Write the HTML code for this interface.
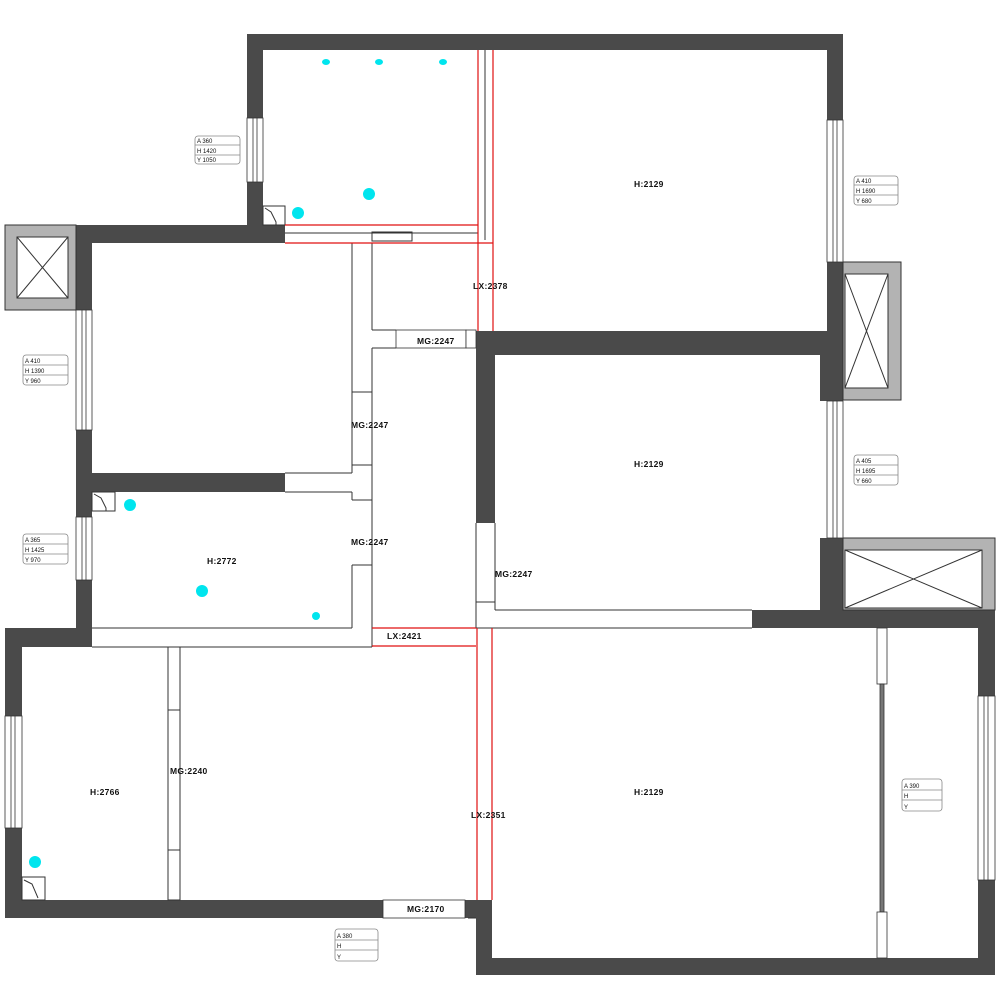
<!DOCTYPE html>
<html><head><meta charset="utf-8"><style>
html,body{margin:0;padding:0;background:#fff;}
svg{display:block;}
text{font-family:"Liberation Sans",sans-serif;font-size:8px;fill:#111;}
.lb{font-size:8.5px;letter-spacing:0.3px;font-weight:bold;}
.ib{font-size:6px;}
</style></head><body>
<svg width="1003" height="990" viewBox="0 0 1003 990" xmlns="http://www.w3.org/2000/svg">
<g fill="#4a4a4a">
<rect x="247" y="34" width="596" height="16"/>
<rect x="247" y="34" width="16" height="84"/>
<rect x="247" y="182" width="16" height="61"/>
<rect x="76" y="225" width="209" height="18"/>
<rect x="827" y="34" width="16" height="86"/>
<rect x="827" y="262" width="16" height="70"/>
<rect x="76" y="225" width="16" height="85"/>
<rect x="76" y="430" width="16" height="87"/>
<rect x="92" y="473" width="193" height="19"/>
<rect x="76" y="580" width="16" height="67"/>
<rect x="5" y="628" width="87" height="19"/>
<rect x="5" y="628" width="17" height="88"/>
<rect x="5" y="828" width="17" height="90"/>
<rect x="5" y="900" width="378" height="18"/>
<rect x="476" y="331" width="367" height="24"/>
<rect x="476" y="331" width="19" height="192"/>
<rect x="820" y="331" width="23" height="70"/>
<rect x="820" y="538" width="23" height="90"/>
<rect x="752" y="610" width="243" height="18"/>
<rect x="978" y="610" width="17" height="86"/>
<rect x="978" y="880" width="17" height="95"/>
<rect x="476" y="958" width="519" height="17"/>
<rect x="465" y="900" width="27" height="18"/>
<rect x="476" y="900" width="16" height="75"/>
</g>
<g stroke="#333" stroke-width="1">
<rect x="5" y="225" width="71" height="85" fill="#b3b3b3"/>
<rect x="17" y="237" width="51" height="61" fill="#fff"/>
<line x1="17" y1="237" x2="68" y2="298"/><line x1="68" y1="237" x2="17" y2="298"/>
<rect x="843" y="262" width="58" height="138" fill="#b3b3b3"/>
<rect x="845" y="274" width="43" height="114" fill="#fff"/>
<line x1="845" y1="274" x2="888" y2="388"/><line x1="888" y1="274" x2="845" y2="388"/>
<rect x="843" y="538" width="152" height="72" fill="#b3b3b3"/>
<rect x="845" y="550" width="137" height="58" fill="#fff"/>
<line x1="845" y1="550" x2="982" y2="608"/><line x1="982" y1="550" x2="845" y2="608"/>
</g>
<g fill="#fff" stroke="#333" stroke-width="0.8">
<rect x="247" y="118" width="16" height="64"/><line x1="253" y1="118" x2="253" y2="182"/><line x1="257" y1="118" x2="257" y2="182"/>
<rect x="827" y="120" width="16" height="142"/><line x1="833" y1="120" x2="833" y2="262"/><line x1="837" y1="120" x2="837" y2="262"/>
<rect x="76" y="310" width="16" height="120"/><line x1="82" y1="310" x2="82" y2="430"/><line x1="86" y1="310" x2="86" y2="430"/>
<rect x="76" y="517" width="16" height="63"/><line x1="82" y1="517" x2="82" y2="580"/><line x1="86" y1="517" x2="86" y2="580"/>
<rect x="827" y="401" width="16" height="137"/><line x1="833" y1="401" x2="833" y2="538"/><line x1="837" y1="401" x2="837" y2="538"/>
<rect x="5" y="716" width="17" height="112"/><line x1="11" y1="716" x2="11" y2="828"/><line x1="15" y1="716" x2="15" y2="828"/>
<rect x="978" y="696" width="17" height="184"/><line x1="984" y1="696" x2="984" y2="880"/><line x1="988" y1="696" x2="988" y2="880"/>
<rect x="877" y="628" width="10" height="56"/>
<rect x="880" y="684" width="4" height="228" fill="#777"/>
<rect x="877" y="912" width="10" height="46"/>
<rect x="383" y="900" width="82" height="18"/>
<rect x="396" y="330" width="70" height="18"/><rect x="466" y="330" width="10" height="18"/>
</g>
<g stroke="#333" stroke-width="1" fill="none">
<line x1="485" y1="50" x2="485" y2="240"/>
<line x1="285" y1="233" x2="478" y2="233"/>
<rect x="372" y="232" width="40" height="9"/>
<line x1="352" y1="243" x2="352" y2="392"/>
<line x1="372" y1="243" x2="372" y2="330"/>
<line x1="372" y1="330" x2="396" y2="330"/>
<line x1="372" y1="348" x2="396" y2="348"/>
<line x1="372" y1="348" x2="372" y2="628"/>
<line x1="352" y1="392" x2="372" y2="392"/>
<line x1="352" y1="392" x2="352" y2="465"/>
<line x1="352" y1="465" x2="372" y2="465"/>
<line x1="285" y1="473" x2="352" y2="473"/>
<line x1="285" y1="492" x2="352" y2="492"/>
<line x1="352" y1="465" x2="352" y2="473"/>
<line x1="352" y1="492" x2="352" y2="500"/>
<line x1="352" y1="500" x2="372" y2="500"/>
<line x1="352" y1="565" x2="372" y2="565"/>
<line x1="352" y1="565" x2="352" y2="628"/>
<line x1="92" y1="628" x2="352" y2="628"/>
<line x1="92" y1="647" x2="372" y2="647"/>
<line x1="372" y1="628" x2="372" y2="647"/>
<line x1="476" y1="523" x2="476" y2="628"/>
<line x1="495" y1="523" x2="495" y2="610"/>
<line x1="476" y1="602" x2="495" y2="602"/>
<line x1="495" y1="610" x2="752" y2="610"/>
<line x1="476" y1="628" x2="752" y2="628"/>
<rect x="168" y="647" width="12" height="63"/>
<line x1="168" y1="710" x2="168" y2="850"/><line x1="180" y1="710" x2="180" y2="850"/>
<rect x="168" y="850" width="12" height="50"/>
<line x1="468" y1="918" x2="476" y2="918"/>
<path d="M263 206 h22 v19 h-22 z"/><path d="M265 208 l6 4 l5 10 v3"/>
<path d="M92 492 h23 v19 h-23 z"/><path d="M94 494 l7 4 l5 10 v3"/>
<path d="M22 877 h23 v23 h-23 z"/><path d="M24 880 l8 4 l6 14"/>
</g>
<g stroke="#e01010" stroke-width="1.2">
<line x1="478" y1="50" x2="478" y2="331"/>
<line x1="493" y1="50" x2="493" y2="331"/>
<line x1="285" y1="225" x2="478" y2="225"/>
<line x1="285" y1="243" x2="493" y2="243"/>
<line x1="372" y1="628" x2="476" y2="628"/>
<line x1="372" y1="646" x2="476" y2="646"/>
<line x1="477" y1="628" x2="477" y2="900"/>
<line x1="492" y1="628" x2="492" y2="900"/>
</g>
<g fill="#00e5ee">
<ellipse cx="326" cy="62" rx="4" ry="3"/><ellipse cx="379" cy="62" rx="4" ry="3"/><ellipse cx="443" cy="62" rx="4" ry="3"/>
<circle cx="369" cy="194" r="6"/><circle cx="298" cy="213" r="6"/>
<circle cx="130" cy="505" r="6"/><circle cx="202" cy="591" r="6"/><circle cx="316" cy="616" r="4"/>
<circle cx="35" cy="862" r="6"/>
</g>
<g>
<text class="lb" x="634" y="187">H:2129</text>
<text class="lb" x="634" y="467">H:2129</text>
<text class="lb" x="634" y="795">H:2129</text>
<text class="lb" x="207" y="564">H:2772</text>
<text class="lb" x="90" y="795">H:2766</text>
<text class="lb" x="473" y="289">LX:2378</text>
<text class="lb" x="417" y="344">MG:2247</text>
<text class="lb" x="351" y="428">MG:2247</text>
<text class="lb" x="351" y="545">MG:2247</text>
<text class="lb" x="495" y="577">MG:2247</text>
<text class="lb" x="387" y="639">LX:2421</text>
<text class="lb" x="471" y="818">LX:2351</text>
<text class="lb" x="170" y="774">MG:2240</text>
<text class="lb" x="407" y="912">MG:2170</text>
</g>
<g fill="none" stroke="#888" stroke-width="0.8">
<rect x="195" y="136" width="45" height="28" rx="3"/><line x1="195" y1="145" x2="240" y2="145"/><line x1="195" y1="155" x2="240" y2="155"/>
<rect x="854" y="176" width="44" height="29" rx="3"/><line x1="854" y1="185" x2="898" y2="185"/><line x1="854" y1="195" x2="898" y2="195"/>
<rect x="23" y="355" width="45" height="30" rx="3"/><line x1="23" y1="365" x2="68" y2="365"/><line x1="23" y1="375" x2="68" y2="375"/>
<rect x="854" y="455" width="44" height="30" rx="3"/><line x1="854" y1="465" x2="898" y2="465"/><line x1="854" y1="475" x2="898" y2="475"/>
<rect x="23" y="534" width="45" height="30" rx="3"/><line x1="23" y1="544" x2="68" y2="544"/><line x1="23" y1="554" x2="68" y2="554"/>
<rect x="902" y="779" width="40" height="32" rx="3"/><line x1="902" y1="790" x2="942" y2="790"/><line x1="902" y1="800" x2="942" y2="800"/>
<rect x="335" y="929" width="43" height="32" rx="3"/><line x1="335" y1="940" x2="378" y2="940"/><line x1="335" y1="950" x2="378" y2="950"/>
</g>
<g>
<text class="ib" x="197" y="143">A 360</text><text class="ib" x="197" y="153">H 1420</text><text class="ib" x="197" y="162">Y 1050</text>
<text class="ib" x="856" y="183">A 410</text><text class="ib" x="856" y="193">H 1690</text><text class="ib" x="856" y="203">Y 680</text>
<text class="ib" x="25" y="363">A 410</text><text class="ib" x="25" y="373">H 1390</text><text class="ib" x="25" y="383">Y 960</text>
<text class="ib" x="856" y="463">A 405</text><text class="ib" x="856" y="473">H 1695</text><text class="ib" x="856" y="483">Y 660</text>
<text class="ib" x="25" y="542">A 365</text><text class="ib" x="25" y="552">H 1425</text><text class="ib" x="25" y="562">Y 970</text>
<text class="ib" x="904" y="788">A 390</text><text class="ib" x="904" y="798">H</text><text class="ib" x="904" y="809">Y</text>
<text class="ib" x="337" y="938">A 380</text><text class="ib" x="337" y="948">H</text><text class="ib" x="337" y="959">Y</text>
</g>
</svg>
</body></html>
